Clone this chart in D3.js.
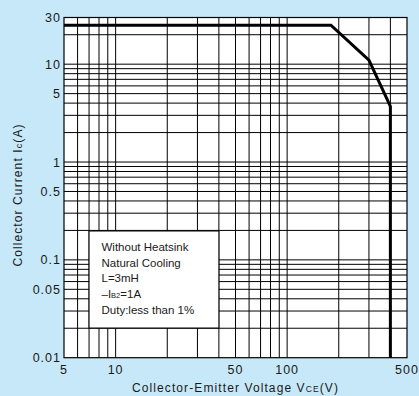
<!DOCTYPE html>
<html><head><meta charset="utf-8">
<script src="https://cdn.jsdelivr.net/npm/d3@7"></script>
<style>
html,body{margin:0;padding:0;background:#c7e8f8;}
svg{display:block;font-family:"Liberation Sans",Arial,sans-serif;}
</style></head>
<body><svg id="c" width="419" height="396"></svg>
<script>
// ---- data ----
const xTickLabels = [5, 10, 50, 100, 500];
const yTickLabels = [0.01, 0.05, 0.1, 0.5, 1, 5, 10, 30];
const xGrid = [6, 7, 8, 9, 10, 20, 30, 40, 50, 60, 70, 80, 90, 100, 200, 300, 400];
const yGrid = [0.02, 0.03, 0.04, 0.05, 0.06, 0.07, 0.08, 0.09, 0.1,
               0.2, 0.3, 0.4, 0.5, 0.6, 0.7, 0.8, 0.9, 1,
               2, 3, 4, 5, 6, 7, 8, 9, 10, 20];
const curveV = [5, 180, 300, 400, 400];
const curveI = [25, 25, 11, 3.7, 0.01];
const legendLines = ["Without Heatsink", "Natural Cooling", "L=3mH", "–I|B2|=1A", "Duty:less than 1%"];

// ---- layout ----
const W = 419, H = 396;
const L = 64, R = 407, T = 17.5, B = 357.7;
const svg = d3.select("#c");
const x = d3.scaleLog().domain([5, 500]).range([L, R]);
const y = d3.scaleLog().domain([0.01, 30]).range([B, T]);

svg.append("rect").attr("width", W).attr("height", H).attr("fill", "#c7e8f8");
svg.append("rect").attr("x", L).attr("y", T).attr("width", R - L).attr("height", B - T).attr("fill", "#fff");

const g = svg.append("g");
g.selectAll(".vx").data(xGrid).join("line")
  .attr("x1", d => x(d)).attr("x2", d => x(d)).attr("y1", T).attr("y2", B)
  .attr("stroke", "#000").attr("stroke-width", 1);
g.selectAll(".hy").data(yGrid).join("line")
  .attr("y1", d => y(d)).attr("y2", d => y(d)).attr("x1", L).attr("x2", R)
  .attr("stroke", "#000").attr("stroke-width", 1);

// legend box
const lx0 = x(7), lx1 = x(40), ly0 = 231, ly1 = 328;
svg.append("rect").attr("x", lx0).attr("y", ly0).attr("width", lx1 - lx0).attr("height", ly1 - ly0)
  .attr("fill", "#fff").attr("stroke", "#000").attr("stroke-width", 1);
const lt = svg.append("g").attr("font-size", 11.5).attr("fill", "#1a1a1a");
legendLines.forEach((s, i) => {
  const t = lt.append("text").attr("x", 101.5).attr("y", 251 + i * 15.7);
  const parts = s.split("|");
  parts.forEach((p, j) => {
    const ts = t.append("tspan").text(p);
    if (j % 2 === 1) ts.attr("font-size", 7.5);
  });
});

// frame
svg.append("rect").attr("x", L).attr("y", T).attr("width", R - L).attr("height", B - T)
  .attr("fill", "none").attr("stroke", "#000").attr("stroke-width", 1.2);

// curve
const pts = curveV.map((v, i) => [v, curveI[i]]);
svg.append("path").datum(pts)
  .attr("d", d3.line().x(d => x(d[0])).y(d => y(d[1])))
  .attr("fill", "none").attr("stroke", "#000").attr("stroke-width", 3).attr("stroke-linejoin", "miter");

// axes labels
const tf = svg.append("g").attr("font-size", 12.5).attr("fill", "#1a1a1a").attr("letter-spacing", 1);
tf.selectAll(".yt").data(yTickLabels).join("text")
  .attr("x", 61).attr("y", d => y(d) + 4.5).attr("text-anchor", "end").text(d => d);
tf.selectAll(".xt").data(xTickLabels).join("text")
  .attr("x", d => x(d)).attr("y", 374).attr("text-anchor", "middle").text(d => d);

const xt = svg.append("text").attr("x", (L + R) / 2).attr("y", 392).attr("text-anchor", "middle")
  .attr("font-size", 12).attr("letter-spacing", 1.1).attr("fill", "#1a1a1a");
xt.append("tspan").text("Collector-Emitter Voltage V");
xt.append("tspan").attr("font-size", 8.5).text("CE");
xt.append("tspan").text("(V)");

const yt = svg.append("text").attr("transform", "translate(22,195) rotate(-90)").attr("text-anchor", "middle")
  .attr("font-size", 12).attr("letter-spacing", 1.1).attr("fill", "#1a1a1a");
yt.append("tspan").text("Collector Current I");
yt.append("tspan").attr("font-size", 9).text("c");
yt.append("tspan").text("(A)");
</script></body></html>
